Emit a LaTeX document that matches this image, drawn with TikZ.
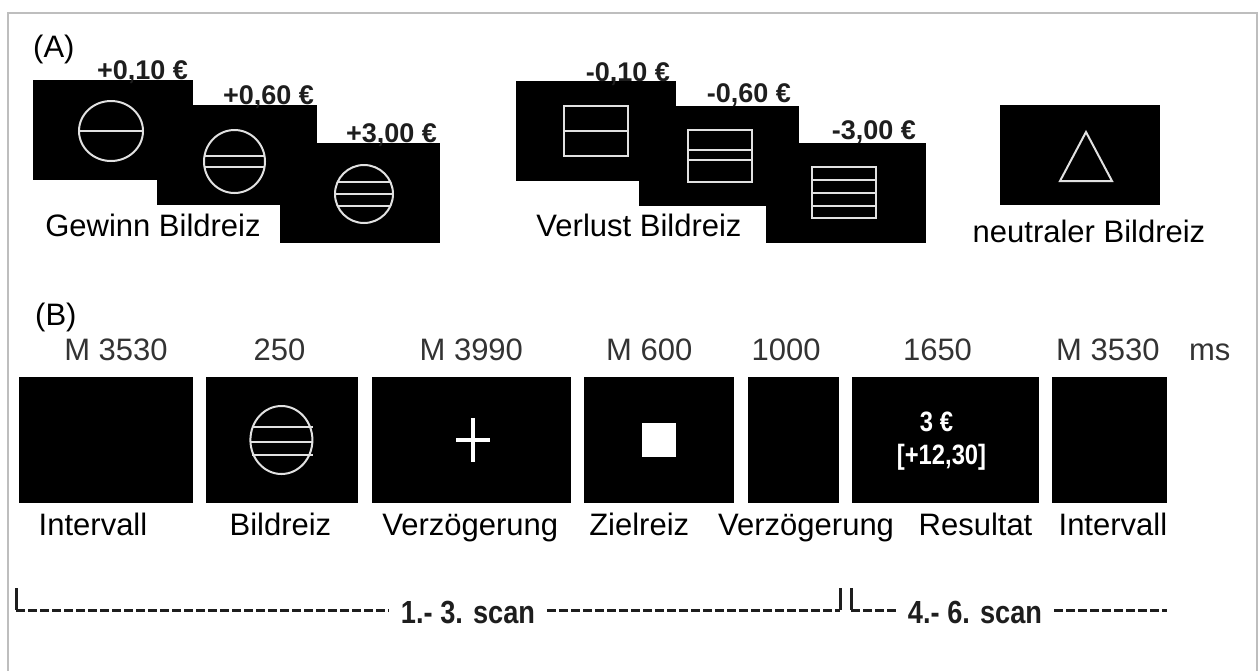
\documentclass[tikz,border=0pt]{standalone}
\usepackage{fontspec}
\setmainfont{Liberation Sans}
\newfontfamily\narrowfont{Liberation Sans}[FakeStretch=0.85]
\usetikzlibrary{positioning, calc}

\definecolor{framegray}{RGB}{190,190,190}
\definecolor{stimwhite}{RGB}{225,225,225}
\definecolor{inkdark}{RGB}{30,30,30}

\tikzset{
  stimbox/.style={fill=black, inner sep=0pt, minimum width=160pt, minimum height=100pt},
  trialbox/.style={fill=black, inner sep=0pt, minimum height=126pt},
  stimline/.style={draw=stimwhite, line width=2pt},
  amount/.style={font=\fontsize{27}{32}\selectfont\bfseries, text=inkdark, inner sep=0pt, anchor=base east},
  capt/.style={font=\fontsize{31}{37}\selectfont, inner sep=0pt, text height=22pt, text depth=7pt},
  duration/.style={font=\fontsize{31}{37}\selectfont, text=black!80, inner sep=0pt, text height=22pt, text depth=0pt},
  result/.style={font=\narrowfont\bfseries\fontsize{28}{34}\selectfont, text=white, inner sep=0pt},
  scanlbl/.style={font=\narrowfont\bfseries\fontsize{32}{38}\selectfont, text=inkdark, inner xsep=12pt, inner ysep=0pt, text height=23pt, text depth=0pt},
  scanline/.style={draw=inkdark, line width=3pt, dash pattern=on 9pt off 3pt},
  scantick/.style={draw=inkdark, line width=3pt}
}

\begin{document}
\begin{tikzpicture}[x=1pt, y=-1pt]
    \useasboundingbox (0,0) rectangle (1258,670);
    % thin grey frame round the figure
    \draw[framegray, line width=2pt] (8,13) rectangle (1257,720);

    % ---------- (A) cue stimuli ----------
    \node[capt, anchor=west] (lblA) at (33,50) {(A)};

    % gain cues: circle with 1, 2, 3 bars
    \node[stimbox] (g1) at (113,130) {};
    \draw[stimline] ($(g1)+(-2,1)$) ellipse [x radius=32pt, y radius=30pt];
    \draw[stimline] ($(g1)+(-34,1)$) -- ($(g1)+(30,1)$);
    \node[amount] (a1) at ($(g1.north east)+(-5,0)$) {+0,10 €};

    \node[stimbox] (g2) at (237,155) {};
    \draw[stimline] ($(g2)+(-2.5,6.5)$) ellipse [x radius=30.5pt, y radius=31.5pt];
    \draw[stimline] ($(g2)+(-32.5,1)$) -- ($(g2)+(27.5,1)$);
    \draw[stimline] ($(g2)+(-32.5,12)$) -- ($(g2)+(27.5,12)$);
    \node[amount] (a2) at ($(g2.north east)+(-3,0)$) {+0,60 €};

    \node[stimbox] (g3) at (360,193) {};
    \draw[stimline] ($(g3)+(4,1)$) ellipse [x radius=29pt, y radius=29pt];
    \draw[stimline] ($(g3)+(-22.5,-11)$) -- ($(g3)+(30.5,-11)$);
    \draw[stimline] ($(g3)+(-25,1)$) -- ($(g3)+(33,1)$);
    \draw[stimline] ($(g3)+(-22.5,13)$) -- ($(g3)+(30.5,13)$);
    \node[amount] (a3) at ($(g3.north east)+(-3,0)$) {+3,00 €};

    \node[capt] (gainlbl) at (153,229) {Gewinn Bildreiz};

    % loss cues: square with 1, 2, 3 bars
    \node[stimbox] (l1) at (596,131) {};
    \draw[stimline] ($(l1)+(-32,-25)$) rectangle ($(l1)+(32,25)$);
    \draw[stimline] ($(l1)+(-32,0)$) -- ($(l1)+(32,0)$);
    \node[amount] (a4) at ($(l1.north east)+(-6,1)$) {-0,10 €};

    \node[stimbox] (l2) at (719,156) {};
    \draw[stimline] ($(l2)+(-31,-26)$) rectangle ($(l2)+(33,26)$);
    \draw[stimline] ($(l2)+(-31,-6)$) -- ($(l2)+(33,-6)$);
    \draw[stimline] ($(l2)+(-31,4)$) -- ($(l2)+(33,4)$);
    \node[amount] (a5) at ($(l2.north east)+(-8,-3)$) {-0,60 €};

    \node[stimbox] (l3) at (846,193) {};
    \draw[stimline] ($(l3)+(-34,-26)$) rectangle ($(l3)+(30,25)$);
    \draw[stimline] ($(l3)+(-34,-13)$) -- ($(l3)+(30,-13)$);
    \draw[stimline] ($(l3)+(-34,0)$) -- ($(l3)+(30,0)$);
    \draw[stimline] ($(l3)+(-34,13)$) -- ($(l3)+(30,13)$);
    \node[amount] (a6) at ($(l3.north east)+(-10,-3)$) {-3,00 €};

    \node[capt] (losslbl) at (639,229) {Verlust Bildreiz};

    % neutral cue: triangle
    \node[stimbox] (n1) at (1080,155) {};
    \draw[stimline] ($(n1)+(6,-23)$) -- ($(n1)+(32,26)$) -- ($(n1)+(-20,26)$) -- cycle;
    \node[capt] (neutlbl) at (1089,235) {neutraler Bildreiz};

    % ---------- (B) trial sequence ----------
    \node[capt, anchor=west] (lblB) at (35,318) {(B)};

    \node[trialbox, minimum width=174pt] (b1) at (106,440) {};
    \node[trialbox, minimum width=152pt, right=13pt of b1] (b2) {};
    \node[trialbox, minimum width=199pt, right=13pt of b2] (b3) {};
    \node[trialbox, minimum width=150pt, right=13pt of b3] (b4) {};
    \node[trialbox, minimum width=91pt, right=13pt of b4] (b5) {};
    \node[trialbox, minimum width=187pt, right=13pt of b5] (b6) {};
    \node[trialbox, minimum width=115pt, right=13pt of b6] (b7) {};

    % durations above
    \node[duration, above=16pt of b1, xshift=10pt] (d1) {M 3530};
    \node[duration, above=16pt of b2, xshift=-3pt] (d2) {250};
    \node[duration, above=16pt of b3] (d3) {M 3990};
    \node[duration, above=16pt of b4, xshift=-10pt] (d4) {M 600};
    \node[duration, above=16pt of b5, xshift=-7pt] (d5) {1000};
    \node[duration, above=16pt of b6, xshift=-8pt] (d6) {1650};
    \node[duration, above=16pt of b7, xshift=-2pt] (d7) {M 3530};
    \node[duration, right=29pt of d7] (dms) {ms};

    % phase names below
    \node[capt, below=10pt of b1, xshift=-13pt] (c1) {Intervall};
    \node[capt, below=10pt of b2, xshift=-2pt] (c2) {Bildreiz};
    \node[capt, below=10pt of b3, xshift=-1pt] (c3) {Verzögerung};
    \node[capt, below=10pt of b4, xshift=-20pt] (c4) {Zielreiz};
    \node[capt, below=10pt of b5, xshift=13pt] (c5) {Verzögerung};
    \node[capt, below=10pt of b6, xshift=30pt] (c6) {Resultat};
    \node[capt, below=10pt of b7, xshift=3pt] (c7) {Intervall};

    % screen contents
    \draw[stimline] ($(b2)+(-1,0)$) ellipse [x radius=31pt, y radius=34pt];
    \draw[stimline] ($(b2)+(-30,-13)$) -- ($(b2)+(31,-13)$);
    \draw[stimline] ($(b2)+(-32,2)$) -- ($(b2)+(31,2)$);
    \draw[stimline] ($(b2)+(-30,15)$) -- ($(b2)+(31,15)$);

    \draw[white, line width=4pt] ($(b3)+(-15,0)$) -- ($(b3)+(19,0)$);
    \draw[white, line width=4pt] ($(b3)+(2,-22)$) -- ($(b3)+(2,22)$);

    \node[fill=white, minimum size=34pt, inner sep=0pt] (tsq) at (b4) {};

    \node[result] (r1) at ($(b6)+(-9,-18)$) {3 €};
    \node[result] (r2) at ($(b6)+(-4,17)$) {[+12,30]};

    % ---------- scan brackets ----------
    \coordinate (s1top) at (16,588);
    \coordinate (s1bot) at (16,610);
    \coordinate (s1end) at (840,610);
    \coordinate (s1endtop) at (840,588);
    \coordinate (s2top) at (851,588);
    \coordinate (s2bot) at (851,610);
    \coordinate (s2end) at (1167,610);
    \node[scanlbl] (scan1) at (468,612) {1.- 3. scan};
    \node[scanlbl] (scan2) at (975,612) {4.- 6. scan};

    \draw[scantick] (s1top) -- (s1bot);
    \draw[scanline] (s1bot) -- (s1bot -| scan1.west);
    \draw[scanline] (s1bot -| scan1.east) -- (s1end);
    \draw[scantick] (s1end) -- (s1endtop);
    \draw[scantick] (s2top) -- (s2bot);
    \draw[scanline] (s2bot) -- (s2bot -| scan2.west);
    \draw[scanline] (s2bot -| scan2.east) -- (s2end);
\end{tikzpicture}
\end{document}
